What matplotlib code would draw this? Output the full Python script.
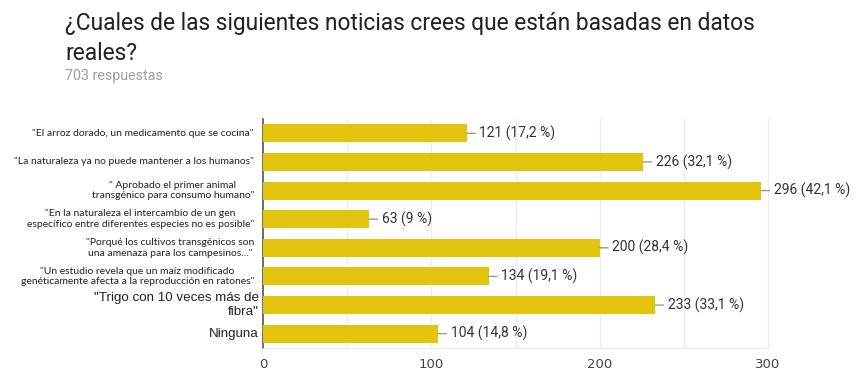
import matplotlib
matplotlib.use("Agg")
import matplotlib.pyplot as plt
from matplotlib.ticker import MultipleLocator
from matplotlib.transforms import ScaledTranslation

# data
labels = [
    '"El arroz dorado, un medicamento que se cocina"',
    '"La naturaleza ya no puede mantener a los humanos"',
    '" Aprobado el primer animal\ntransgénico para consumo humano"',
    '"En la naturaleza el intercambio de un gen\nespecífico entre diferentes especies no es posible"',
    '"Porqué los cultivos transgénicos son\nuna amenaza para los campesinos..."',
    '"Un estudio revela que un maíz modificado\ngenéticamente afecta a la reproducción en ratones"',
    '"Trigo con 10 veces más de\nfibra"',
    'Ninguna',
]
counts = [121, 226, 296, 63, 200, 134, 233, 104]
pcts = ["17,2", "32,1", "42,1", "9", "28,4", "19,1", "33,1", "14,8"]
x_ticks = [0, 100, 200, 300]

title = "¿Cuales de las siguientes noticias crees que están basadas en datos\nreales?"
subtitle = "703 respuestas"

bar_color = "#e2c40d"
W, H = 856, 383

fig = plt.figure(figsize=(W / 100, H / 100), dpi=100)
ax = fig.add_axes([263 / W, 1 - 348 / H, 505 / W, 229 / H])

y = list(range(len(counts)))
ax.barh(y, counts, height=0.63, color=bar_color, zorder=3)
ax.set_xlim(0, 300)
ax.set_ylim(len(counts) - 0.5, -0.5)

ax.xaxis.set_major_locator(MultipleLocator(100))
ax.xaxis.set_minor_locator(MultipleLocator(50))
ax.grid(axis="x", which="both", color="#ebebeb", lw=0.9, zorder=0)
ax.set_xticks(x_ticks)
ax.tick_params(axis="x", which="both", length=0, labelsize=9.5, colors="#444444", pad=7)
ax.set_yticks(y)
ax.set_yticklabels([""] * len(y))
ax.tick_params(axis="y", length=0)

ax.spines["top"].set_visible(False)
ax.spines["right"].set_color("#ebebeb")
ax.spines["bottom"].set_color("#ebebeb")
ax.spines["left"].set_color("#555555")
ax.spines["left"].set_linewidth(1.2)

# category labels, drawn by hand so each can have its own gap to the axis
for i, lab in enumerate(labels):
    if i >= 6:
        off = ScaledTranslation(-4 / 100, 0, fig.dpi_scale_trans)
        ax.text(0, i, lab, transform=ax.get_yaxis_transform() + off,
                ha="right", va="center", multialignment="right",
                family="Liberation Sans", fontsize=9.6, color="#222222",
                linespacing=1.25)
    else:
        off = ScaledTranslation(-9 / 100, 0, fig.dpi_scale_trans)
        ax.text(0, i, lab, transform=ax.get_yaxis_transform() + off,
                ha="right", va="center", multialignment="center",
                family="Lato", fontsize=7.5, color="#222222",
                linespacing=1.25)

for i, (c, p) in enumerate(zip(counts, pcts)):
    ax.annotate(f"{c} ({p} %)", xy=(c, i), xytext=(9, 0), textcoords="offset points",
                va="center", ha="left", fontsize=10, family="Roboto", color="#333333",
                annotation_clip=False,
                arrowprops=dict(arrowstyle="-", color="#999999", lw=1.0,
                                shrinkA=1, shrinkB=0))

fig.text(65 / W, 1 - 12 / H, title, ha="left", va="top", fontsize=16.4,
         family="Roboto", color="#212121", linespacing=1.4)
fig.text(65 / W, 1 - 76 / H, subtitle, ha="left", va="center", fontsize=10.3,
         family="Roboto", color="#9e9e9e")

fig.savefig("out.png", dpi=100)
